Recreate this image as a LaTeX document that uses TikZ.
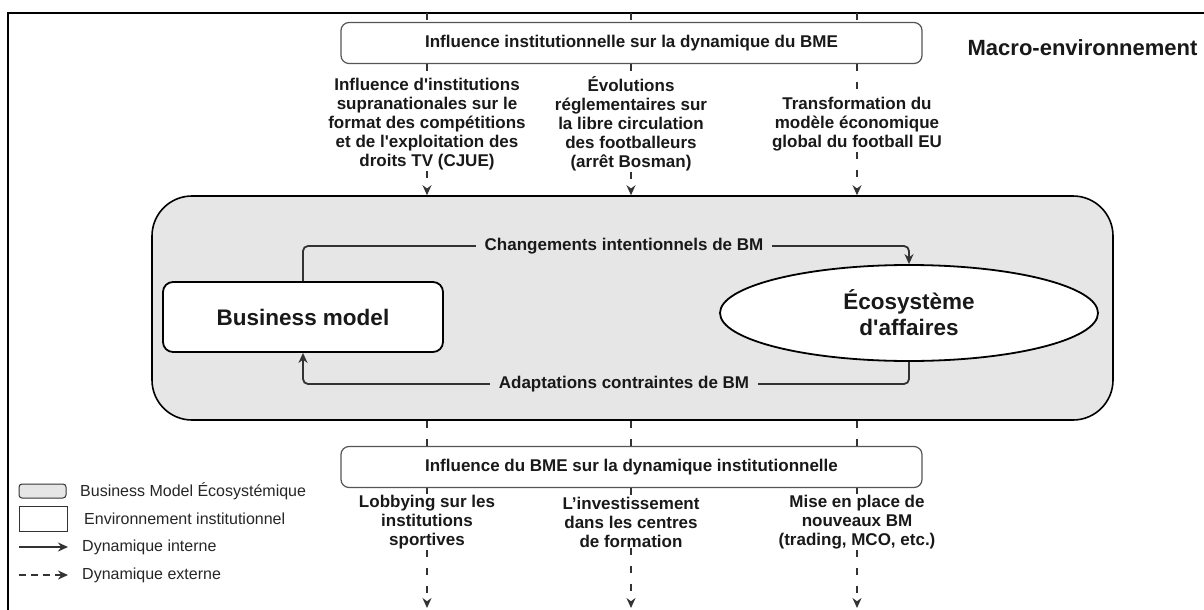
\documentclass[tikz,border=0pt]{standalone}
\usepackage{fontspec}
\setmainfont{Liberation Sans}
\usetikzlibrary{arrows.meta,shapes.geometric,calc}
\definecolor{bmegray}{HTML}{E6E6E6}
\definecolor{linegray}{HTML}{333333}
\definecolor{boxedge}{HTML}{555555}
\newcommand{\sq}{\textquotesingle}
\begin{document}
\begin{tikzpicture}[x=1pt,y=-1pt,
  lbl/.style={font=\fontsize{17}{19}\selectfont\bfseries, align=center, inner sep=1pt, text=black!90},
  glbl/.style={font=\fontsize{17}{19}\selectfont\bfseries, fill=bmegray, inner xsep=9pt, inner ysep=1pt, text=black!90},
  ext/.style={draw=linegray, line width=1.3pt, dash pattern=on 7pt off 11pt},
  intl/.style={draw=linegray, line width=1.8pt},
  arr/.style={-{Stealth[length=10pt,width=9pt]}},
  inst/.style={draw=boxedge, line width=1.2pt, rounded corners=8pt, fill=white,
    minimum width=581pt, minimum height=41pt, inner sep=0pt,
    font=\fontsize{17}{19}\selectfont\bfseries, text=black!90},
  leg/.style={anchor=west, font=\fontsize{16}{18}\selectfont, text=black!85, inner sep=0pt}
]
\useasboundingbox (0,0) rectangle (1204,610);
\fill[white] (0,0) rectangle (1204,610);
% outer frame
\draw[line width=2pt] (8,610) -- (8,13) -- (1204,13);

% macro label
\node[font=\fontsize{22}{26}\selectfont\bfseries, anchor=east, text=black!90] (macro) at (1201,48) {Macro-environnement};

% gray BME box
\node[draw=black, line width=1.6pt, fill=bmegray, rounded corners=40pt,
  minimum width=961pt, minimum height=224pt, inner sep=0pt] (bme) at (632.5,308) {};

% institutional boxes
\node[inst] (top) at (631.5,43) {Influence institutionnelle sur la dynamique du BME};
\node[inst] (bot) at (631.5,467) {Influence du BME sur la dynamique institutionnelle};

% column coordinates
\coordinate (t1) at (427,13);
\coordinate (t2) at (631,13);
\coordinate (t3) at (857,13);
\coordinate (e1) at (427,608);
\coordinate (e2) at (631,608);
\coordinate (e3) at (857,608);

% top labels
\node[lbl] (a1) at (427,124) {Influence d\sq institutions\\supranationales sur le\\format des compétitions\\et de l\sq exploitation des\\droits TV (CJUE)};
\node[lbl] (a2) at (631,124) {Évolutions\\réglementaires sur\\la libre circulation\\des footballeurs\\(arrêt Bosman)};
\node[lbl] (a3) at (857,124) {Transformation du\\modèle économique\\global du football EU};

% bottom labels
\node[lbl] (b1) at (427,522) {Lobbying sur les\\institutions\\sportives};
\node[lbl] (b2) at (631,522) {L’investissement\\dans les centres\\de formation};
\node[lbl] (b3) at (857,522) {Mise en place de\\nouveaux BM\\(trading, MCO, etc.)};

% external dynamics (dashed)
\foreach \i in {1,2,3}{
  \draw[ext] (t\i) -- (top.north -| t\i);
  \draw[ext] (top.south -| t\i) -- (a\i.north);
  \draw[ext,arr] (a\i.south) -- (bme.north -| t\i);
  \draw[ext] (bme.south -| t\i) -- (bot.north -| t\i);
  \draw[ext] (bot.south -| t\i) -- (b\i.north);
  \draw[ext,arr] (b\i.south) -- (e\i);
}

% inner nodes
\node[draw=black, line width=1.8pt, fill=white, rounded corners=10pt,
  minimum width=280pt, minimum height=70pt, inner sep=0pt,
  font=\fontsize{22.5}{26}\selectfont\bfseries, text=black!90] (bm) at (303,317) {Business model};
\node[ellipse, draw=black, line width=1.8pt, fill=white, minimum width=378pt, minimum height=96pt,
  inner sep=0pt, align=center, font=\fontsize{22.5}{26}\selectfont\bfseries, text=black!90] (eco) at (909,313) {Écosystème\\d\sq affaires};

% internal dynamics
\coordinate (c1) at (909,246);
\coordinate (c2) at (909,384);
\draw[intl,arr,rounded corners=5pt] (bm.north) |- (c1) -- (eco.north);
\draw[intl,arr,rounded corners=5pt] (eco.south) -- (c2) -| (bm.south);
\node[glbl] (l1) at (624,246) {Changements intentionnels de BM};
\node[glbl] (l2) at (624,384) {Adaptations contraintes de BM};

% legend
\node[draw=black!80, line width=1pt, fill=bmegray, rounded corners=3pt,
  minimum width=47pt, minimum height=14pt, inner sep=0pt] (lg1) at (42.5,491) {};
\node[leg] (lt1) at (80,491) {Business Model Écosystémique};
\node[draw=black!80, line width=1pt, fill=white,
  minimum width=48pt, minimum height=25pt, inner sep=0pt] (lg2) at (43,519) {};
\node[leg] (lt2) at (84,519) {Environnement institutionnel};
\coordinate (ls3) at (19,547);
\coordinate (le3) at (68,547);
\draw[intl,arr] (ls3) -- (le3);
\node[leg] (lt3) at (82,547) {Dynamique interne};
\coordinate (ls4) at (19,575);
\coordinate (le4) at (68,575);
\draw[intl,arr,dash pattern=on 7pt off 5pt] (ls4) -- (le4);
\node[leg] (lt4) at (82,575) {Dynamique externe};
\end{tikzpicture}
\end{document}
